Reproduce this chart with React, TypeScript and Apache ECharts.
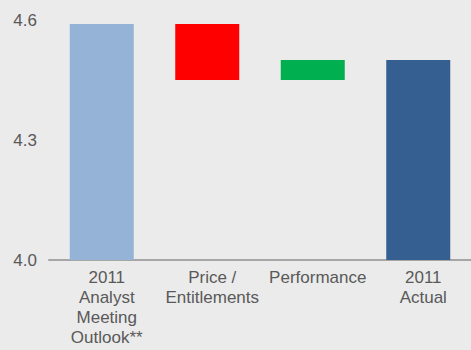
import React, { useEffect, useRef } from "react";
import * as echarts from "echarts";

const categories = [
  "2011\nAnalyst\nMeeting\nOutlook**",
  "Price /\nEntitlements",
  "Performance",
  "2011\nActual",
];
// totals (null where the bar is a change)
const totals: (number | null)[] = [4.59, null, null, 4.5];
// changes (null where the bar is a total)
const changes: (number | null)[] = [null, -0.14, 0.05, null];
const barColors = ["#95b3d7", "#ff0000", "#00b050", "#365f91"];
const yTicks = [4.0, 4.3, 4.6];

export default function App() {
  const ref = useRef<HTMLDivElement>(null);
  useEffect(() => {
    if (!ref.current) return;
    const chart = echarts.init(ref.current, undefined, { renderer: "svg" });
    // build waterfall base / height from the data
    const base: number[] = [];
    const height: number[] = [];
    let running = 0;
    categories.forEach((_, i) => {
      const t = totals[i];
      const c = changes[i];
      if (t != null) {
        base.push(0);
        height.push(t);
        running = t;
      } else if (c != null) {
        const next = running + c;
        base.push(Math.min(running, next));
        height.push(Math.abs(c));
        running = next;
      }
    });
    const font = "Liberation Sans, Arial, sans-serif";
    chart.setOption({
      animation: false,
      backgroundColor: "#ebebeb",
      grid: { left: 49, top: 20, width: 426, height: 240 },
      xAxis: {
        type: "category",
        data: categories,
        axisLine: { show: true, lineStyle: { color: "#a6a6a6", width: 2 } },
        axisTick: { show: false },
        axisLabel: {
          color: "#595959",
          fontSize: 17,
          lineHeight: 20,
          fontFamily: font,
          margin: 7,
          padding: [0, 0, 0, 10],
          interval: 0,
        },
      },
      yAxis: {
        type: "value",
        min: yTicks[0],
        max: yTicks[yTicks.length - 1],
        interval: 0.3,
        splitLine: { show: false },
        axisLine: { show: false },
        axisTick: { show: false },
        axisLabel: {
          color: "#595959",
          fontSize: 17,
          fontFamily: font,
          margin: 12,
          padding: [0, 0, 6, 0],
          formatter: (v: number) => v.toFixed(1),
        },
      },
      series: [
        {
          type: "bar",
          stack: "w",
          data: base,
          itemStyle: { color: "transparent" },
          barWidth: 64,
          silent: true,
        },
        {
          type: "bar",
          stack: "w",
          barWidth: 64,
          data: height.map((h, i) => ({
            value: h,
            itemStyle: { color: barColors[i] },
          })),
        },
      ],
    });
    return () => chart.dispose();
  }, []);
  return (
    <div
      ref={ref}
      style={{ position: "fixed", left: 0, top: 0, width: 471, height: 350 }}
    />
  );
}
